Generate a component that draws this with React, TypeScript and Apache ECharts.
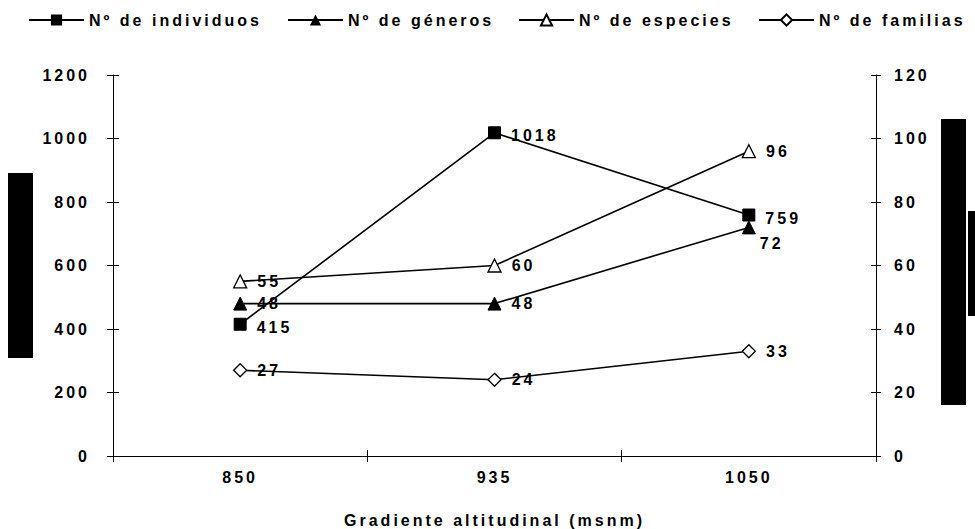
import React, { useEffect, useRef } from "react";
import * as echarts from "echarts";

const categories = ["850", "935", "1050"];
const individuos = [415, 1018, 759];
const generos = [48, 48, 72];
const especies = [55, 60, 96];
const familias = [27, 24, 33];
const seriesNames = ["Nº de individuos", "Nº de géneros", "Nº de especies", "Nº de familias"];
const legendLefts = [28, 287, 518, 758];

const FONT = "'Liberation Sans', Arial, sans-serif";

export default function App() {
  const ref = useRef<HTMLDivElement>(null);
  useEffect(() => {
    if (!ref.current) return;
    const chart = echarts.init(ref.current, undefined, { renderer: "svg" });
    const labelStyle = {
      show: true,
      position: "right" as const,
      distance: 10,
      color: "#000",
      fontFamily: FONT,
      fontWeight: "bold" as const,
      fontSize: 16,
    };
    const axisText = { color: "#000", fontFamily: FONT, fontWeight: "bold" as const, fontSize: 16 };
    const lineStyle = { color: "#000", width: 1.6 };
    chart.setOption({
      animation: false,
      textStyle: { fontFamily: FONT, color: "#000" },
      legend: seriesNames.map((n, i) => ({
        top: 12,
        left: legendLefts[i],
        padding: 0,
        itemWidth: 55,
        itemHeight: 14,
        itemGap: 5,
        selectedMode: false,
        textStyle: { fontFamily: FONT, fontWeight: "bold", fontSize: 16, color: "#000" },
        data: [n],
      })),
      grid: { left: 113, right: 99, top: 75, bottom: 73, outerBoundsMode: "none" },
      xAxis: [
        {
          type: "category",
          data: categories,
          boundaryGap: true,
          axisLine: { lineStyle: { color: "#000", width: 1 } },
          axisTick: { show: true, length: 6, lineStyle: { color: "#000" } },
          axisLabel: { ...axisText, margin: 13 },
          name: "Gradiente altitudinal (msnm)",
          nameLocation: "middle",
          nameGap: 56,
          nameTextStyle: axisText,
        },
        {
          type: "category",
          data: categories,
          position: "bottom",
          boundaryGap: true,
          axisLine: { show: false },
          axisTick: { show: true, inside: true, length: 6, lineStyle: { color: "#000" } },
          axisLabel: { show: false },
        },
      ],
      yAxis: [
        {
          type: "value",
          position: "left",
          min: 0,
          max: 1200,
          interval: 200,
          axisLine: { show: true, lineStyle: { color: "#000", width: 1 } },
          axisTick: { show: true, length: 6, lineStyle: { color: "#000" } },
          axisLabel: { ...axisText, margin: 23, formatter: (v: number) => String(v) },
          splitLine: { show: false },
        },
        {
          type: "value",
          position: "right",
          min: 0,
          max: 120,
          interval: 20,
          axisLine: { show: true, lineStyle: { color: "#000", width: 1 } },
          axisTick: { show: true, length: 5, lineStyle: { color: "#000" } },
          axisLabel: { ...axisText, margin: 18, formatter: (v: number) => String(v) },
          splitLine: { show: false },
        },
        {
          type: "value",
          position: "left",
          min: 0,
          max: 1200,
          interval: 200,
          axisLine: { show: false },
          axisTick: { show: true, inside: true, length: 6, lineStyle: { color: "#000" } },
          axisLabel: { show: false },
          splitLine: { show: false },
        },
        {
          type: "value",
          position: "right",
          min: 0,
          max: 120,
          interval: 20,
          axisLine: { show: false },
          axisTick: { show: true, inside: true, length: 5, lineStyle: { color: "#000" } },
          axisLabel: { show: false },
          splitLine: { show: false },
        },
      ],
      graphic: [
        { type: "rect", shape: { x: 8, y: 173, width: 25, height: 185 }, style: { fill: "#000" } },
        { type: "rect", shape: { x: 941, y: 119, width: 25, height: 286 }, style: { fill: "#000" } },
        { type: "rect", shape: { x: 968, y: 211, width: 7, height: 105 }, style: { fill: "#000" } },
      ],
      series: [
        {
          name: seriesNames[0],
          type: "line",
          yAxisIndex: 0,
          data: individuos,
          symbol: "rect",
          symbolSize: 12,
          itemStyle: { color: "#000", borderColor: "#000" },
          lineStyle,
          label: { ...labelStyle, offset: [0, 3] },
          z: 4,
        },
        {
          name: seriesNames[1],
          type: "line",
          yAxisIndex: 1,
          data: generos.map((v, i) =>
            i === 2 ? { value: v, label: { offset: [-6, 16] } } : v
          ),
          symbol: "triangle",
          symbolSize: 13,
          itemStyle: { color: "#000", borderColor: "#000" },
          lineStyle,
          label: labelStyle,
          z: 3,
        },
        {
          name: seriesNames[2],
          type: "line",
          yAxisIndex: 1,
          data: especies,
          symbol: "triangle",
          symbolSize: 13,
          itemStyle: { color: "#fff", borderColor: "#000", borderWidth: 1.3 },
          lineStyle,
          label: labelStyle,
          z: 3,
        },
        {
          name: seriesNames[3],
          type: "line",
          yAxisIndex: 1,
          data: familias,
          symbol: "diamond",
          symbolSize: 13,
          itemStyle: { color: "#fff", borderColor: "#000", borderWidth: 1.3 },
          lineStyle,
          label: labelStyle,
          z: 3,
        },
      ],
    });
    return () => chart.dispose();
  }, []);
  return (
    <div
      ref={ref}
      style={{ width: 975, height: 529, position: "absolute", left: 0, top: 0, letterSpacing: "3px" }}
    />
  );
}
